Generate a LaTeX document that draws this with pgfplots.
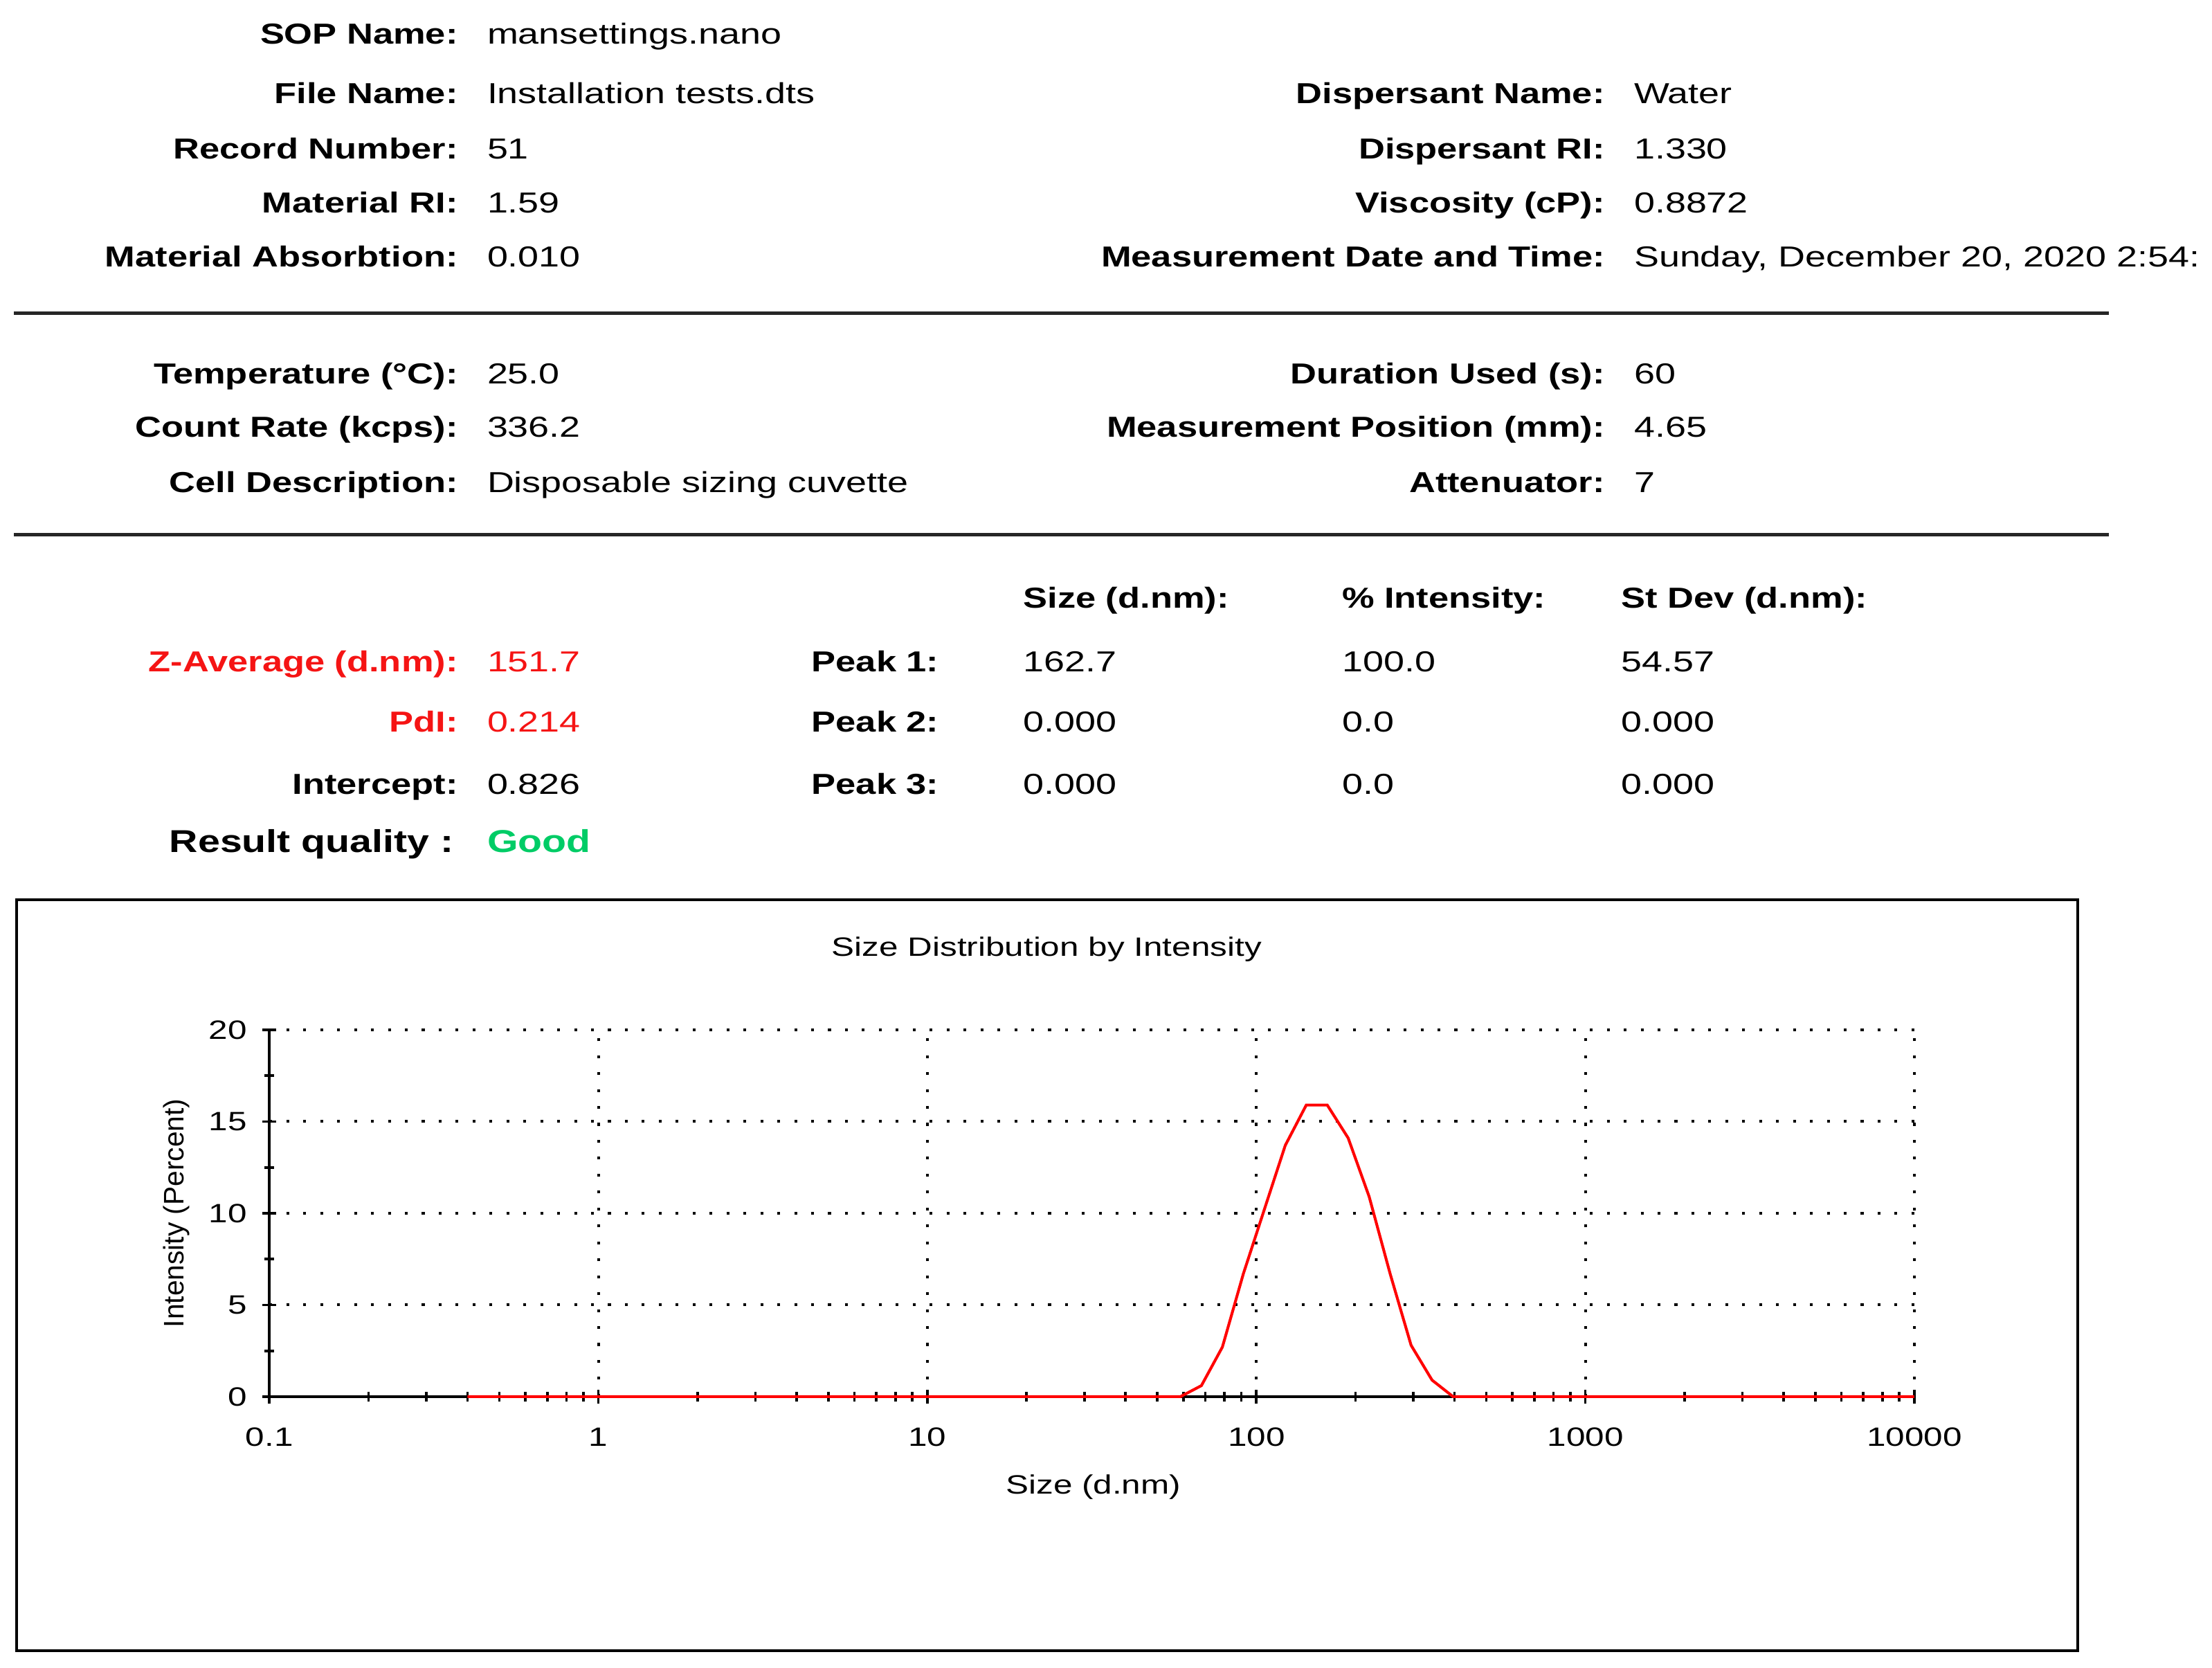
\documentclass[border=0pt]{standalone}
\usepackage{fontspec}
\setmainfont{Liberation Sans}[UprightFeatures={FakeStretch=1.29}, BoldFeatures={FakeStretch=1.255}]
\newfontfamily\plainsans{Liberation Sans}
\usepackage{pgfplots}
\pgfplotsset{compat=1.18}
\usepackage{pgfplotstable}

\definecolor{zred}{RGB}{245,20,20}
\definecolor{good}{RGB}{0,204,102}

% intensity distribution (size bins in d.nm, intensity in percent)
\pgfplotstableread{
size intensity
0.4 0
58.77 0
68.06 0.6
78.82 2.7
91.28 6.7
105.7 10.2
122.4 13.7
141.8 15.9
164.2 15.9
190.1 14.1
220.2 10.9
255.0 6.7
295.3 2.8
342.0 0.9
396.1 0
10000 0
}\psd

\newcommand\txt{\fontsize{10.25bp}{12bp}\selectfont}
\newcommand\chartfont{\fontsize{9.4bp}{11bp}\selectfont}

\begin{document}
\begin{tikzpicture}
\clip (0,0) rectangle (784bp,-591bp);
\begin{scope}[x=0.5bp,y=-0.5bp, every node/.style={inner sep=0pt, font=\txt}]
\tikzset{lab/.style={anchor=base east, font=\txt\bfseries},
         val/.style={anchor=base west},
         hd/.style={anchor=base west, font=\txt\bfseries}}
% header block
\node[lab] at (325,31) {SOP Name:};            \node[val] at (345,31) {mansettings.nano};
\node[lab] at (325,73.5) {File Name:};         \node[val] at (345,73.5) {Installation tests.dts};
\node[lab] at (325,112.5) {Record Number:};    \node[val] at (345,112.5) {51};
\node[lab] at (325,151) {Material RI:};        \node[val] at (345,151) {1.59};
\node[lab] at (325,189) {Material Absorbtion:};\node[val] at (345,189) {0.010};
\node[lab] at (1138,73.5) {Dispersant Name:};  \node[val] at (1158,73.5) {Water};
\node[lab] at (1138,112.5) {Dispersant RI:};   \node[val] at (1158,112.5) {1.330};
\node[lab] at (1138,151) {Viscosity (cP):};    \node[val] at (1158,151) {0.8872};
\node[lab] at (1138,189) {Measurement Date and Time:}; \node[val] at (1158,189) {Sunday, December 20, 2020 2:54:};
\draw[black!85, line width=1bp] (10,222) -- (1495,222);
\node[lab] at (325,272) {Temperature (°C):};   \node[val] at (345,272) {25.0};
\node[lab] at (325,310) {Count Rate (kcps):};  \node[val] at (345,310) {336.2};
\node[lab] at (325,349) {Cell Description:};   \node[val] at (345,349) {Disposable sizing cuvette};
\node[lab] at (1138,272) {Duration Used (s):}; \node[val] at (1158,272) {60};
\node[lab] at (1138,310) {Measurement Position (mm):}; \node[val] at (1158,310) {4.65};
\node[lab] at (1138,349) {Attenuator:};        \node[val] at (1158,349) {7};
\draw[black!85, line width=1bp] (10,379) -- (1495,379);
% results
\node[hd] at (725,431) {Size (d.nm):};
\node[hd] at (951,431) {\% Intensity:};
\node[hd] at (1149,431) {St Dev (d.nm):};
\node[lab, text=zred] at (325,476) {Z-Average (d.nm):}; \node[val, text=zred] at (345,476) {151.7};
\node[lab, text=zred] at (325,519) {PdI:};     \node[val, text=zred] at (345,519) {0.214};
\node[lab] at (325,563) {Intercept:};          \node[val] at (345,563) {0.826};
\node[lab, font=\fontsize{11.2bp}{13bp}\selectfont\bfseries] at (322,604) {Result quality :};
\node[val, text=good, font=\fontsize{11.2bp}{13bp}\selectfont\bfseries] at (345,604) {Good};
\node[hd] at (575,476) {Peak 1:}; \node[val] at (725,476) {162.7}; \node[val] at (951,476) {100.0}; \node[val] at (1149,476) {54.57};
\node[hd] at (575,519) {Peak 2:}; \node[val] at (725,519) {0.000}; \node[val] at (951,519) {0.0};   \node[val] at (1149,519) {0.000};
\node[hd] at (575,563) {Peak 3:}; \node[val] at (725,563) {0.000}; \node[val] at (951,563) {0.0};   \node[val] at (1149,563) {0.000};
% chart frame and title
\draw[black, line width=1bp] (12,638) rectangle (1473,1170);
\node[anchor=base, font=\chartfont] at (742,678) {Size Distribution by Intensity};
\end{scope}

\begin{axis}[
  at={(95.5bp,-495bp)}, anchor=south west,
  scale only axis, width=583bp, height=130bp,
  xmode=log, xmin=0.1, xmax=10000, ymin=0, ymax=20,
  axis lines=left, axis line style={-, line width=1bp, black},
  xtick={0.1,1,10,100,1000,10000},
  xticklabels={0.1,1,10,100,1000,10000},
  minor xtick={0.2,0.3,0.4,0.5,0.6,0.7,0.8,0.9,2,3,4,5,6,7,8,9,20,30,40,50,60,70,80,90,200,300,400,500,600,700,800,900,2000,3000,4000,5000,6000,7000,8000,9000},
  ytick={0,5,10,15,20}, minor ytick={2.5,7.5,12.5,17.5},
  tick align=center, major tick length=5bp, minor tick length=3.5bp,
  tick style={black, line width=0.9bp},
  grid=major, major grid style={black, line width=1bp, dash pattern=on 1bp off 5bp},
  /pgf/number format/assume math mode=true,
  tick label style={font=\chartfont},
  xticklabel style={yshift=-5bp},
  yticklabel style={xshift=-2bp},
  xlabel style={font=\chartfont, at={(axis description cs:0.5009,-0.246)}, anchor=center},
  ylabel style={font=\plainsans\fontsize{10bp}{12bp}\selectfont, at={(axis description cs:-0.0566,0.5)}, anchor=center},
  xlabel={Size (d.nm)}, ylabel={Intensity (Percent)},
  clip=false,
]
\addplot[red, line width=1bp] table[x=size, y=intensity] {\psd};
\end{axis}
\end{tikzpicture}
\end{document}
